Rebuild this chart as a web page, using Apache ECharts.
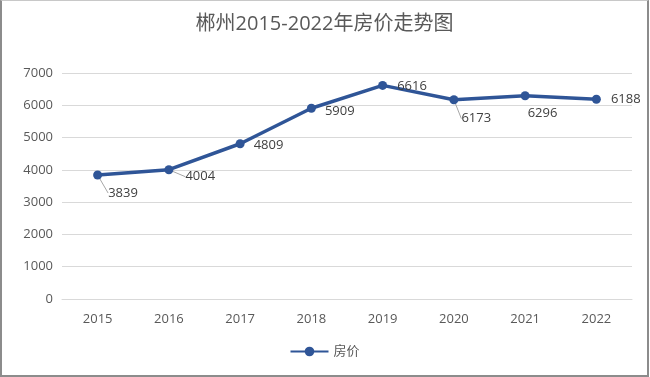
<!DOCTYPE html>
<html>
<head>
<meta charset="utf-8">
<script src="https://cdn.jsdelivr.net/npm/echarts@6/dist/echarts.min.js"></script>
<style>
  html, body { margin: 0; padding: 0; background: #fff; }
  #chart {
    position: absolute; left: 0; top: 0;
    width: 645px; height: 374px;
    border-top: 1px solid #c8c8c8;
    border-left: 2px solid #8c8c8c;
    border-right: 2px solid #8c8c8c;
    border-bottom: 2px solid #8c8c8c;
  }
</style>
</head>
<body>
<div id="chart"></div>
<script>
  var titleText = '郴州2015-2022年房价走势图'
  var seriesName = '房价'
  var years = ['2015', '2016', '2017', '2018', '2019', '2020', '2021', '2022']
  var prices = [3839, 4004, 4809, 5909, 6616, 6173, 6296, 6188]
  var yTicks = [0, 1000, 2000, 3000, 4000, 5000, 6000, 7000]

  // label offsets (dx, dy) per point and whether a leader line is drawn
  var labelShift = [[6, 18], [12, 7], [9, 2], [9, 3], [10, 1], [3, 19], [-2, 18], [10, 0]]
  var withLeader = [true, true, false, false, false, true, false, false]

  var chart = echarts.init(document.getElementById('chart'))
  chart.setOption({
    textStyle: { fontFamily: '"Open Sans", "Noto Sans CJK SC", sans-serif' },
    title: {
      text: titleText,
      left: 'center',
      top: 8,
      textStyle: {
        color: '#595959',
        fontSize: 20,
        fontWeight: 'normal',
        fontFamily: '"Open Sans", "Noto Sans CJK SC", sans-serif'
      }
    },
    legend: {
      bottom: 12,
      left: 'center',
      itemWidth: 38,
      itemHeight: 12,
      textStyle: { color: '#595959', fontSize: 13 },
      data: [seriesName]
    },
    grid: {
      left: 60,
      right: 15,
      top: 72,
      bottom: 76
    },
    xAxis: {
      type: 'category',
      boundaryGap: true,
      data: years,
      axisLine: { show: true, lineStyle: { color: '#d9d9d9' } },
      axisTick: { show: false },
      axisLabel: { color: '#595959', fontSize: 13, margin: 14 }
    },
    yAxis: {
      type: 'value',
      min: yTicks[0],
      max: yTicks[yTicks.length - 1],
      interval: 1000,
      axisLine: { show: false },
      axisTick: { show: false },
      splitLine: { lineStyle: { color: '#d9d9d9', width: 1 } },
      axisLabel: {
        color: '#595959',
        fontSize: 13,
        margin: 9,
        formatter: function (v) { return String(v) }
      }
    },
    series: [{
      name: seriesName,
      type: 'line',
      data: prices.map(function (v, i) {
        return { value: v, labelLine: { show: withLeader[i] } }
      }),
      symbol: 'circle',
      symbolSize: 9,
      lineStyle: { color: '#2f5597', width: 3.5 },
      itemStyle: { color: '#2f5597' },
      label: {
        show: true,
        position: 'right',
        distance: 0,
        color: '#404040',
        fontSize: 13
      },
      labelLine: {
        show: false,
        lineStyle: { color: '#a6a6a6', width: 1 }
      },
      labelLayout: function (params) {
        var s = labelShift[params.dataIndex]
        return { dx: s[0], dy: s[1] }
      }
    }]
  })
</script>
</body>
</html>
